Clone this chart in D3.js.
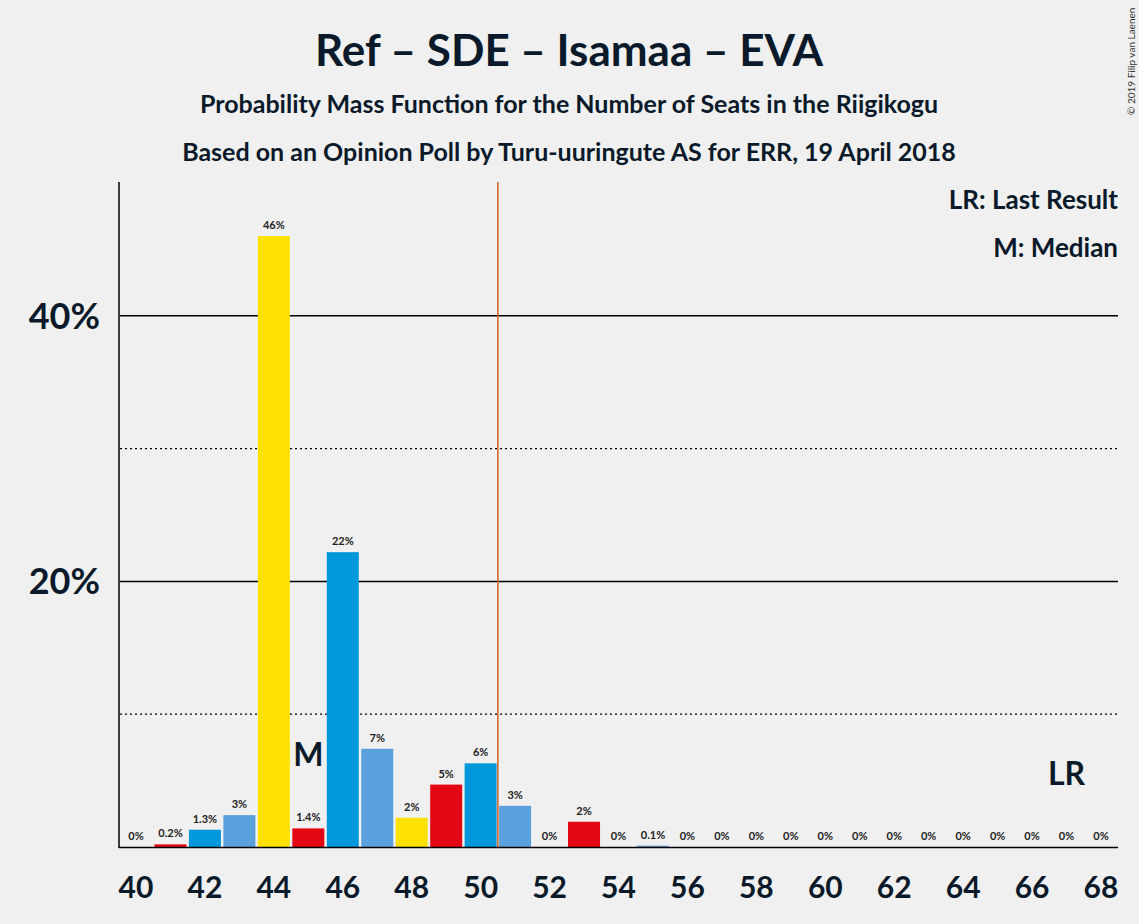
<!DOCTYPE html>
<html><head><meta charset="utf-8">
<script src="https://cdn.jsdelivr.net/npm/d3@7"></script>
<style>body{margin:0;background:#f0f0f0;font-family:Lato,"Open Sans",sans-serif}</style>
</head><body>
<svg width="1139" height="924"></svg>
<script>
var seats = d3.range(40, 69);
var probs = [0, 0.2, 1.3, 2.4, 46, 1.4, 22.2, 7.4, 2.2, 4.7, 6.3, 3.1, 0, 1.9, 0, 0.1,
  0, 0, 0, 0, 0, 0, 0, 0, 0, 0, 0, 0, 0];
var labels = ["0%", "0.2%", "1.3%", "3%", "46%", "1.4%", "22%", "7%", "2%", "5%", "6%", "3%", "0%", "2%", "0%", "0.1%",
  "0%", "0%", "0%", "0%", "0%", "0%", "0%", "0%", "0%", "0%", "0%", "0%", "0%"];
var palette = ["#FFE100", "#E30613", "#0098DB", "#5AA0DC"];
var median = 50.5, lastResult = 67;

var svg = d3.select("svg");
svg.append("rect").attr("width", 1139).attr("height", 924).attr("fill", "#f0f0f0");

var x = d3.scaleLinear().domain([40, 68]).range([136, 1101]);
var y = d3.scaleLinear().domain([0, 50]).range([847, 183]);
var bw = 32;

svg.selectAll(".grid").data([10, 20, 30, 40]).enter().append("line")
  .attr("x1", 120).attr("x2", 1118)
  .attr("y1", function(d) { return y(d); }).attr("y2", function(d) { return y(d); })
  .attr("stroke", "#000").attr("stroke-width", function(d) { return d % 20 ? 1.2 : 1.5; })
  .attr("stroke-dasharray", function(d) { return d % 20 ? "2,3" : null; });

svg.selectAll(".bar").data(seats).enter().append("rect")
  .attr("x", function(d) { return x(d) - bw / 2; })
  .attr("width", bw)
  .attr("y", function(d, i) { return y(probs[i]); })
  .attr("height", function(d, i) { return y(0) - y(probs[i]); })
  .attr("fill", function(d, i) { return palette[i % 4]; });

svg.selectAll(".lbl").data(seats).enter().append("text")
  .attr("x", function(d) { return x(d); })
  .attr("y", function(d, i) { return y(probs[i]) - 7; })
  .attr("text-anchor", "middle").attr("font-size", 11).attr("font-weight", "bold")
  .attr("fill", "#222")
  .text(function(d, i) { return labels[i]; });

svg.append("line").attr("x1", x(median)).attr("x2", x(median))
  .attr("y1", 182).attr("y2", 847).attr("stroke", "#D4601A").attr("stroke-width", 1.5);

svg.append("line").attr("x1", 119).attr("x2", 119).attr("y1", 182).attr("y2", 848).attr("stroke", "#000").attr("stroke-width", 1.5);
svg.append("line").attr("x1", 119).attr("x2", 1118).attr("y1", 847.5).attr("y2", 847.5).attr("stroke", "#000").attr("stroke-width", 1.5);

svg.selectAll(".yt").data([20, 40]).enter().append("text")
  .attr("x", 100).attr("y", function(d) { return y(d) + 13; })
  .attr("text-anchor", "end").attr("font-size", 36).attr("font-weight", "bold").attr("fill", "#0a1a2a")
  .text(function(d) { return d + "%"; });

svg.selectAll(".xt").data(d3.range(40, 69, 2)).enter().append("text")
  .attr("x", function(d) { return x(d); }).attr("y", 898)
  .attr("text-anchor", "middle").attr("font-size", 30).attr("font-weight", "bold").attr("fill", "#0a1a2a")
  .text(function(d) { return d; });

svg.append("text").attr("x", x(45)).attr("y", 766).attr("text-anchor", "middle")
  .attr("font-size", 32).attr("font-weight", "bold").attr("fill", "#0a1a2a").text("M");
svg.append("text").attr("x", x(lastResult)).attr("y", 785).attr("text-anchor", "middle")
  .attr("font-size", 32).attr("font-weight", "bold").attr("fill", "#0a1a2a").text("LR");

svg.append("text").attr("x", 1118).attr("y", 209).attr("text-anchor", "end")
  .attr("font-size", 26).attr("font-weight", "bold").attr("fill", "#0a1a2a").text("LR: Last Result");
svg.append("text").attr("x", 1118).attr("y", 257).attr("text-anchor", "end")
  .attr("font-size", 26).attr("font-weight", "bold").attr("fill", "#0a1a2a").text("M: Median");

svg.append("text").attr("x", 569).attr("y", 66).attr("text-anchor", "middle")
  .attr("font-size", 44).attr("font-weight", "bold").attr("fill", "#0a1a2a").text("Ref – SDE – Isamaa – EVA");
svg.append("text").attr("x", 569).attr("y", 113).attr("text-anchor", "middle")
  .attr("font-size", 25).attr("font-weight", "bold").attr("fill", "#0a1a2a").text("Probability Mass Function for the Number of Seats in the Riigikogu");
svg.append("text").attr("x", 569).attr("y", 161).attr("text-anchor", "middle")
  .attr("font-size", 25).attr("font-weight", "bold").attr("fill", "#0a1a2a").text("Based on an Opinion Poll by Turu-uuringute AS for ERR, 19 April 2018");
svg.append("text").attr("transform", "translate(1135,115) rotate(-90)")
  .attr("font-size", 10).attr("fill", "#333").text("© 2019 Filip van Laenen");
</script>
</body></html>
